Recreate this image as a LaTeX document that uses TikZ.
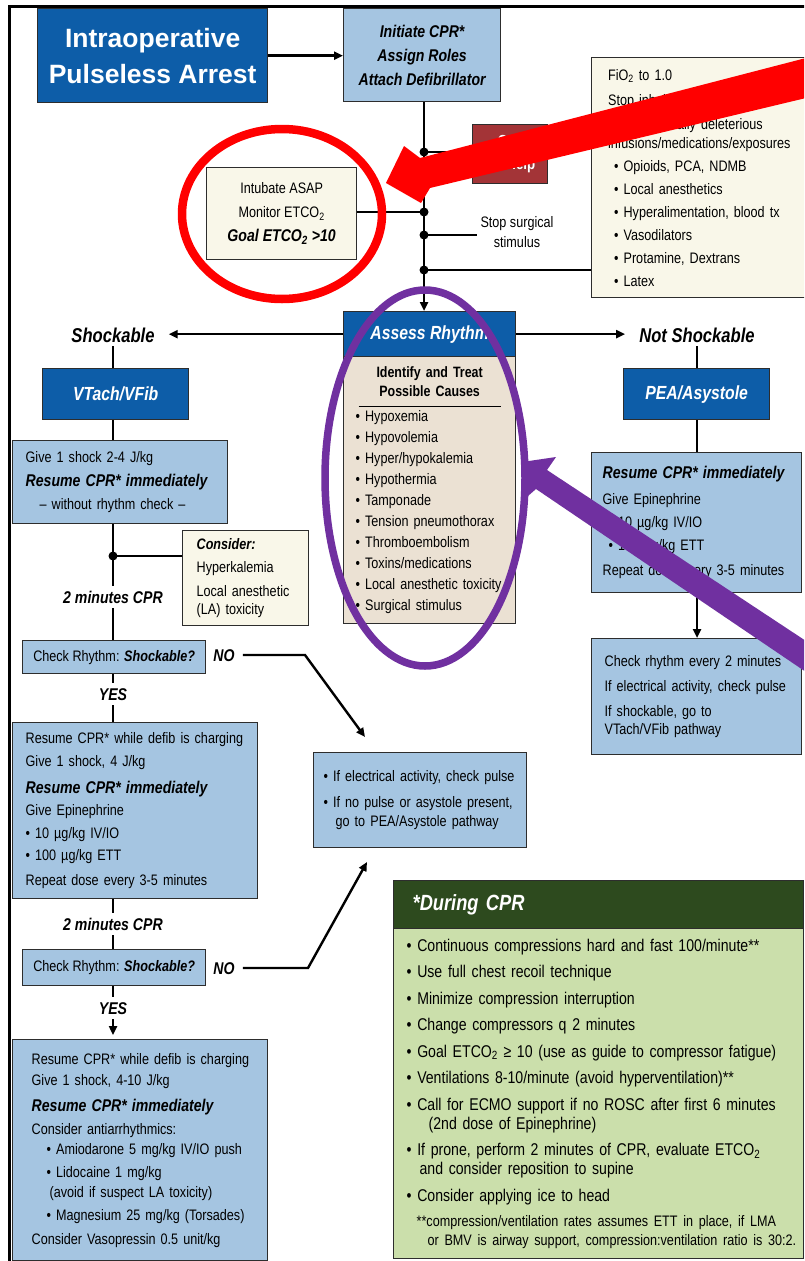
\documentclass[tikz,border=0pt]{standalone}
\usepackage{fontspec}
\setmainfont{Liberation Sans}[FakeStretch=0.83]
\newfontfamily\titlefont{Liberation Sans}
\usetikzlibrary{positioning,arrows.meta}
\definecolor{ArrestBlue}{RGB}{13,93,168}
\definecolor{PaleBlue}{RGB}{165,197,225}
\definecolor{BoxEdge}{RGB}{45,45,45}
\definecolor{NoteCream}{RGB}{249,247,233}
\definecolor{CauseBeige}{RGB}{235,225,211}
\definecolor{HelpRed}{RGB}{163,52,55}
\definecolor{DuringGreen}{RGB}{45,74,30}
\definecolor{DuringLight}{RGB}{203,223,171}
\definecolor{MarkRed}{RGB}{255,0,0}
\definecolor{MarkPurple}{RGB}{112,48,160}
\newcommand{\bodyfont}[1]{\fontsize{15.2}{#1}\selectfont}
\newcommand{\bital}[1]{{\fontsize{17}{20}\selectfont\bfseries\itshape #1}}
% ragged right, but a line may run a little long instead of breaking
\newcommand{\nowrap}{\raggedright\rightskip=0pt plus 1fil minus 90pt\relax}

\begin{document}
\begin{tikzpicture}[x=1pt,y=-1pt,
box/.style={draw=BoxEdge,line width=1.3pt,anchor=north west,inner sep=0pt},
dark/.style={box,fill=ArrestBlue,text=white,align=center,font=\fontsize{19}{22}\selectfont\bfseries\itshape},
pale/.style={box,fill=PaleBlue},
cream/.style={box,fill=NoteCream},
flush/.style={execute at begin node=\nowrap},
branch/.style={font=\fontsize{20}{24}\selectfont\bfseries\itshape,inner xsep=14pt,inner ysep=4pt,text height=14.5pt,text depth=0pt},
cue/.style={font=\fontsize{17}{20}\selectfont\bfseries\itshape,inner xsep=8pt,inner ysep=5pt,text height=12pt,text depth=0pt},
link/.style={line width=2.4pt},
arrow/.style={link,-{Triangle[length=9pt,width=8pt]}}
]
\useasboundingbox (0,0) rectangle (804,1261);
\clip (0,0) rectangle (804,1261);
\fill[white] (0,0) rectangle (804,1261);
\draw[line width=3pt] (9,1265) -- (9,6) -- (810,6);

% top of the chart
\node[dark,font=\titlefont\bfseries\fontsize{26.5}{36}\selectfont,minimum width=230pt,minimum height=94pt] (title) at (37,8) {Intraoperative\\Pulseless Arrest};
\node[pale,align=center,font=\fontsize{17}{24}\selectfont\bfseries\itshape,minimum width=157pt,minimum height=93pt] (initiate) at (343,8) {Initiate CPR*\\Assign Roles\\Attach Defibrillator};
\node[box,fill=HelpRed,text=white,align=center,font=\fontsize{16}{23}\selectfont\bfseries,minimum width=75pt,minimum height=59pt] (help) at (472,124) {Call\\for Help};
\node[cream,align=center,font=\bodyfont{24},minimum width=150pt,minimum height=92pt] (intubate) at (206,167) {Intubate ASAP\\Monitor ETCO\textsubscript{2}\\\bital{Goal ETCO\textsubscript{2} >10}};
\node[align=center,font=\bodyfont{20}] (stopsurg) at (517,232) {Stop surgical\\stimulus};
\node[cream,flush,text width=207pt,font=\bodyfont{23},minimum width=240pt,minimum height=240pt] (fio) at (591,57) {FiO\textsubscript{2} to 1.0\\[2pt]
Stop inhalational agents\\[1pt]
Stop potentially deleterious\\[-4pt]
infusions/medications/exposures\\
\hspace*{6pt}• Opioids, PCA, NDMB\\
\hspace*{6pt}• Local anesthetics\\
\hspace*{6pt}• Hyperalimentation, blood tx\\
\hspace*{6pt}• Vasodilators\\
\hspace*{6pt}• Protamine, Dextrans\\
\hspace*{6pt}• Latex};

% rhythm check and causes
\node[dark,minimum width=172pt,minimum height=45pt] (assess) at (343,311) {Assess Rhythm};
\node[box,fill=CauseBeige,text width=148pt,font=\bodyfont{21},minimum width=172pt,minimum height=267pt] (causes) at (343,356) {\centering{\bfseries\fontsize{15}{19}\selectfont Identify and Treat\\Possible Causes\par}
\nointerlineskip\vspace{9pt}\rule{142pt}{1.6pt}\par
\nointerlineskip\vspace{3.5pt}\nowrap
• Hypoxemia\\
• Hypovolemia\\
• Hyper/hypokalemia\\
• Hypothermia\\
• Tamponade\\
• Tension pneumothorax\\
• Thromboembolism\\
• Toxins/medications\\
• Local anesthetic toxicity\\
• Surgical stimulus};

\node[branch] (shock) at (113,335) {Shockable};
\node[branch] (notshock) at (697,335) {Not Shockable};

% shockable side
\node[dark,minimum width=146pt,minimum height=51pt] (vtach) at (42,368) {VTach/VFib};
\node[pale,flush,text width=189pt,font=\bodyfont{23.5},minimum width=215pt,minimum height=83pt] (give1) at (12,440) {Give 1 shock 2-4 J/kg\\
\bital{Resume CPR* immediately}\\
\hspace*{14pt}– without rhythm check –};
\node[cream,flush,text width=98pt,font=\bodyfont{18},minimum width=126pt,minimum height=95pt] (consider) at (182,530) {\textbf{\textit{Consider:}}\\[5pt]
Hyperkalemia\\[5.5pt]
Local anesthetic\\
(LA) toxicity};
\node[cue] (twomin1) at (113,597) {2 minutes CPR};
\node[pale,align=center,font=\bodyfont{18},minimum width=183pt,minimum height=33pt] (check1) at (22,640) {Check Rhythm: \textbf{\textit{Shockable?}}};
\node[cue] (no1) at (224,655) {NO};
\node[cue] (yes1) at (113,694) {YES};
\node[pale,flush,text width=219pt,font=\bodyfont{22.5},minimum width=245pt,minimum height=176pt] (give2) at (12,722) {Resume CPR* while defib is charging\\
Give 1 shock, 4 J/kg\\[4.5pt]
\bital{Resume CPR* immediately}\\
Give Epinephrine\\
• 10 µg/kg IV/IO\\
• 100 µg/kg ETT\\[2.5pt]
Repeat dose every 3-5 minutes};
\node[cue] (twomin2) at (113,924) {2 minutes CPR};
\node[pale,align=center,font=\bodyfont{18},minimum width=183pt,minimum height=36pt] (check2) at (22,949) {Check Rhythm: \textbf{\textit{Shockable?}}};
\node[cue] (no2) at (224,968) {NO};
\node[cue] (yes2) at (113,1008) {YES};
\node[pale,flush,text width=217pt,font=\bodyfont{20},minimum width=255pt,minimum height=221pt] (give3) at (12,1039) {Resume CPR* while defib is charging\\[1pt]
Give 1 shock, 4-10 J/kg\\[6pt]
\bital{Resume CPR* immediately}\\[3pt]
Consider antiarrhythmics:\\
\hspace*{15pt}• Amiodarone 5 mg/kg IV/IO push\\[3pt]
\hspace*{15pt}• Lidocaine 1 mg/kg\\
\hspace*{18pt}(avoid if suspect LA toxicity)\\[3pt]
\hspace*{15pt}• Magnesium 25 mg/kg (Torsades)\\[4pt]
Consider Vasopressin 0.5 unit/kg};
\node[pale,flush,text width=193pt,font=\bodyfont{19},minimum width=213pt,minimum height=95pt] (ifelec) at (313,752) {• If electrical activity, check pulse\\[7pt]
• If no pulse or asystole present,\\
\hspace*{12pt}go to PEA/Asystole pathway};

% not shockable side
\node[dark,minimum width=146pt,minimum height=51pt] (pea) at (623,368) {PEA/Asystole};
\node[pale,flush,text width=188pt,font=\bodyfont{23},minimum width=210pt,minimum height=140pt] (peacpr) at (591,452) {\bital{Resume CPR* immediately}\\[3pt]
Give Epinephrine\\
\hspace*{6pt}• 10 µg/kg IV/IO\\
\hspace*{6pt}• 100 µg/kg ETT\\[2pt]
Repeat dose every 3-5 minutes};
\node[pale,flush,text width=184pt,font=\bodyfont{18.5},minimum width=210pt,minimum height=116pt] (pecheck) at (591,638) {Check rhythm every 2 minutes\\[6.5pt]
If electrical activity, check pulse\\[6.5pt]
If shockable, go to\\
VTach/VFib pathway};

% during CPR panel
\node[box,fill=DuringGreen,text=white,flush,text width=372pt,font=\fontsize{22}{26}\selectfont\bfseries\itshape,minimum width=410pt,minimum height=48pt] (duringhead) at (393,880) {*During CPR};
\node[box,fill=DuringLight,flush,text width=384pt,font=\fontsize{17}{19}\selectfont,minimum width=410pt,minimum height=330pt] (during) at (393,928) {• Continuous compressions hard and fast 100/minute**\\[7.5pt]
• Use full chest recoil technique\\[7.5pt]
• Minimize compression interruption\\[7.5pt]
• Change compressors q 2 minutes\\[7.5pt]
• Goal ETCO\textsubscript{2} ≥ 10 (use as guide to compressor fatigue)\\[7.5pt]
• Ventilations 8-10/minute (avoid hyperventilation)**\\[7.5pt]
• Call for ECMO support if no ROSC after first 6 minutes\\
\hspace*{22pt}(2nd dose of Epinephrine)\\[7.5pt]
• If prone, perform 2 minutes of CPR, evaluate ETCO\textsubscript{2}\\
\hspace*{13pt}and consider reposition to supine\\[7.5pt]
• Consider applying ice to head\\[5pt]
{\fontsize{15.2}{20}\selectfont\hspace*{10pt}**compression/ventilation rates assumes ETT in place, if LMA\\
\hspace*{21pt}or BMV is airway support, compression:ventilation ratio is 30:2.}};

% junctions
\coordinate (j1) at (424,152);
\coordinate (j2) at (424,212);
\coordinate (j3) at (424,235);
\coordinate (j4) at (424,270);
\coordinate (j5) at (113,556);
\coordinate (bend1) at (305,655);
\coordinate (tip1) at (365,737);
\coordinate (bend2) at (308,968);
\coordinate (tip2) at (367,862);

% connectors
\draw[arrow] (title.east) -- (title.east -| initiate.west);
\draw[link] (initiate.south -| j1) -- (j4);
\draw[arrow] (j4) -- (assess.north -| j4);
\draw[link] (j1) -- (help.west |- j1);
\draw[link] (j2) -- (intubate.east |- j2);
\draw[link] (j3) -- (stopsurg.west |- j3);
\draw[link] (j4) -- (fio.west |- j4);
\draw[arrow] (assess.west) -- (assess.west -| shock.east);
\draw[arrow] (assess.east) -- (assess.east -| notshock.west);
\draw[link] (shock.south) -- (vtach.north -| shock);
\draw[link] (vtach.south -| shock) -- (give1.north -| shock);
\draw[link] (give1.south -| shock) -- (twomin1.north);
\draw[link] (j5) -- (consider.west |- j5);
\draw[link] (twomin1.south) -- (check1.north -| twomin1);
\draw[link] (check1.south -| yes1) -- (yes1.north);
\draw[link] (yes1.south) -- (give2.north -| yes1);
\draw[link] (give2.south -| twomin2) -- (twomin2.north);
\draw[link] (twomin2.south) -- (check2.north -| twomin2);
\draw[link] (check2.south -| yes2) -- (yes2.north);
\draw[arrow,shorten >=4pt] (yes2.south) -- (give3.north -| yes2);
\draw[arrow] (no1.east) -- (bend1) -- (tip1);
\draw[arrow] (no2.east) -- (bend2) -- (tip2);
\draw[link] (notshock.south) -- (pea.north -| notshock);
\draw[link] (pea.south -| notshock) -- (peacpr.north -| notshock);
\draw[arrow] (peacpr.south -| notshock) -- (pecheck.north -| notshock);
\foreach \j in {j1,j2,j3,j4,j5} \fill (\j) circle[radius=4.5pt];

% marks laid over the chart
\draw[MarkRed,line width=8.5pt] (282,214) ellipse[x radius=100pt,y radius=85pt];
\fill[MarkRed] (806,58) -- (420,158) -- (404,146) -- (386,183) -- (421,203) -- (430,188) -- (806,98) -- cycle;
\draw[MarkPurple,line width=7.5pt] (425,478) ellipse[x radius=100pt,y radius=188pt];
\fill[MarkPurple] (806,641) -- (547,470) -- (556,457) -- (522,462) -- (528,496) -- (536,489) -- (806,672) -- cycle;
\end{tikzpicture}
\end{document}
